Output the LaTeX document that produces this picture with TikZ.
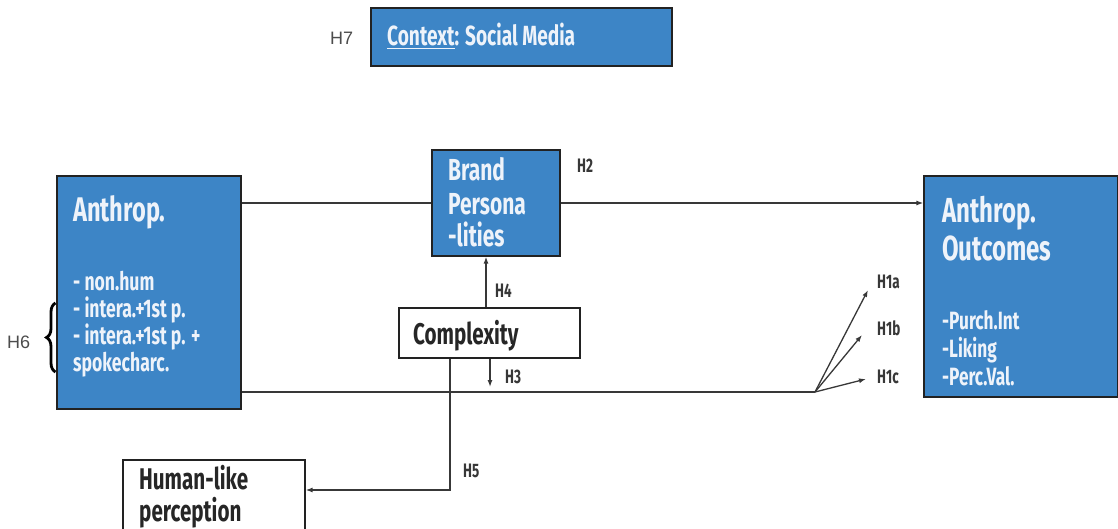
\documentclass[tikz,border=0pt]{standalone}
\usepackage{fontspec}
\usetikzlibrary{decorations.pathreplacing,arrows.meta,calc}
\newfontfamily\osw{Fira Sans}[FakeStretch=0.69]
\newfontfamily\arl{Liberation Sans}
\definecolor{gblue}{HTML}{3D85C6}
\definecolor{ink}{HTML}{222222}
\definecolor{wtxt}{HTML}{EEF3FA}
\newcommand\fs[2]{\osw\bfseries\fontsize{#1}{#2}\selectfont}
\tikzset{
  bluebox/.style={draw=ink,line width=1.2pt,fill=gblue,inner sep=0pt,minimum width=#1},
  whitebox/.style={draw=ink,line width=1.2pt,fill=white,inner sep=0pt},
  txt/.style={anchor=base west,inner sep=0pt,text=wtxt,align=left},
  btxt/.style={anchor=base west,inner sep=0pt,text=black!85,align=left},
  hlab/.style={anchor=base west,inner sep=0pt,font=\fs{19.5}{19.5},text=ink!90},
  glab/.style={anchor=base west,inner sep=0pt,font=\arl\fontsize{18}{18}\selectfont,text=black!70},
  conn/.style={draw=ink!90,line width=1.3pt},
  arr/.style={conn,-{Latex[length=7pt,width=5pt]}},
}
\begin{document}
\begin{tikzpicture}[x=1pt,y=-1pt]
\useasboundingbox[fill=white] (0,0) rectangle (1118,529);
% boxes
\node[bluebox=301pt,minimum height=58pt] (ctx) at (521.5,37) {};
\node[bluebox=184pt,minimum height=233pt] (anth) at (149,292.5) {};
\node[bluebox=128pt,minimum height=106pt] (brand) at (496,203) {};
\node[bluebox=194pt,minimum height=221pt] (out) at (1021,286.5) {};
\node[whitebox,minimum width=181pt,minimum height=50pt] (cx) at (489.5,333) {};
\node[whitebox,minimum width=182pt,minimum height=80pt] (hum) at (214,500) {};
% texts
\node[txt,font=\fs{27.7}{27.7}] (ctxt) at (387,46) {\underline{Context}: Social Media};
\node[txt,font=\fs{34.2}{34.2}] (anthT) at (73,222) {Anthrop.};
\node[txt,font=\fs{25.5}{26.7}] (anthL) at (73,371) {- non.hum\\- intera.+1st p.\\- intera.+1st p. +\\spokecharc.};
\node[txt,font=\fs{30.4}{33}] (brandT) at (448,247) {Brand\\Persona\\-lities};
\node[txt,font=\fs{34.8}{37}] (outT) at (942,260) {Anthrop.\\Outcomes};
\node[txt,font=\fs{25}{28}] (outL) at (942,385) {-Purch.Int\\-Liking\\-Perc.Val.};
\node[btxt,font=\fs{29.9}{29.9}] (cxT) at (413,344) {Complexity};
\node[btxt,font=\fs{29.9}{32}] (humT) at (139,521) {Human-like\\perception};
% labels
\node[glab] (h7) at (330,45) {H7};
\node[glab] (h6) at (7,348) {H6};
\node[hlab] (h2) at (577,173) {H2};
\node[hlab] (h4) at (495,297) {H4};
\node[hlab] (h3) at (505,383) {H3};
\node[hlab] (h5) at (463,477) {H5};
\node[hlab] (h1a) at (877,288) {H1a};
\node[hlab] (h1b) at (877,335) {H1b};
\node[hlab] (h1c) at (877,383) {H1c};
% coordinates
\coordinate (sp) at (815,392);
\coordinate (e1a) at (868,290);
\coordinate (e1b) at (862,335);
\coordinate (e1c) at (866,379);
\coordinate (h4x) at (486,0);
\coordinate (h3e) at (490,387);
\coordinate (h5c) at (450,490);
% connectors
\draw[conn] (brand.west -| anth.east) -- (brand.west);
\draw[arr] (brand.east) -- (brand.east -| out.west);
\draw[arr] (cx.north -| h4x) -- (brand.south -| h4x);
\draw[arr] (cx.south -| h3e) -- (h3e);
\draw[conn] (sp -| anth.east) -- (sp);
\draw[arr] (sp) -- (e1a);
\draw[arr] (sp) -- (e1b);
\draw[arr] (sp) -- (e1c);
\draw[arr] (cx.south -| h5c) -- (h5c) -- (h5c -| hum.east);
% brace
\draw[line width=2.8pt,decorate,decoration={brace,amplitude=9pt}] (55.5,372) -- (55.5,303);
\end{tikzpicture}
\end{document}
